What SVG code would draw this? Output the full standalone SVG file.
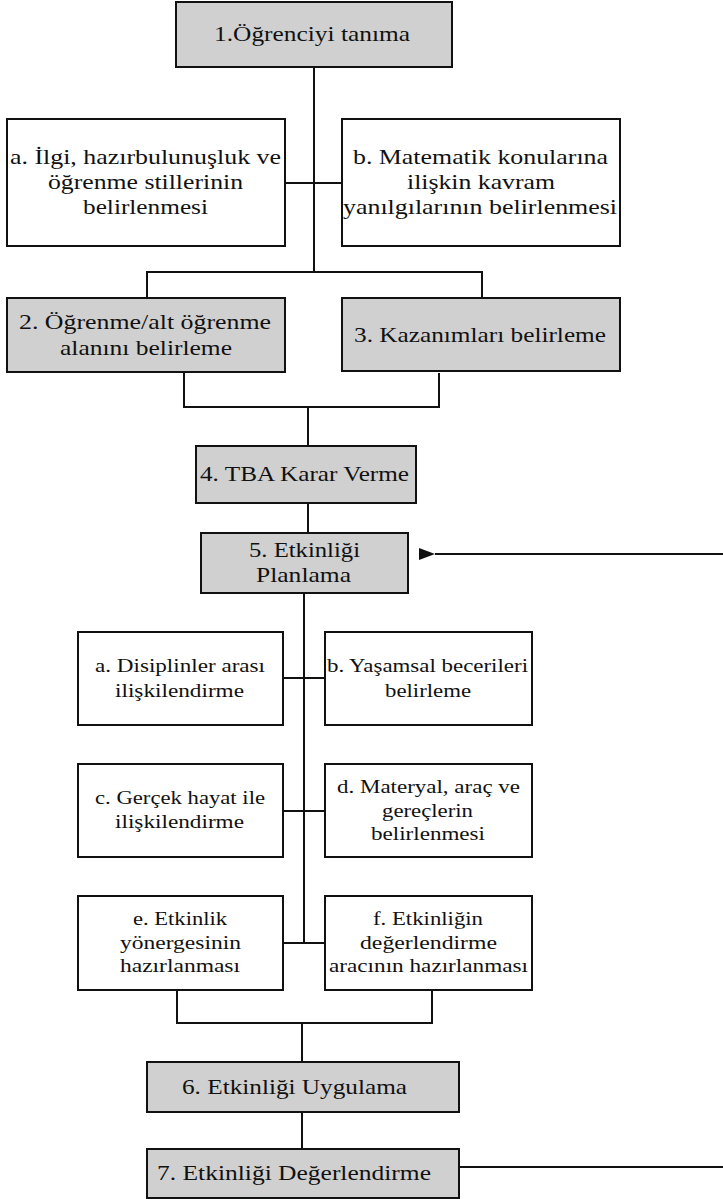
<svg xmlns="http://www.w3.org/2000/svg" width="723" height="1199" viewBox="0 0 723 1199">
<style>
.box{fill:#ffffff;stroke:#111;stroke-width:2}
.g{fill:#d0d0d0}
.t{font-family:"Liberation Serif","Times New Roman",serif;font-size:21px;fill:#111;text-anchor:middle}
.s{font-size:19px}
.ln{fill:none;stroke:#111;stroke-width:2}
</style>
<defs>
<marker id="ah" markerWidth="16" markerHeight="12" refX="0" refY="6" orient="auto" markerUnits="userSpaceOnUse">
<path d="M16,0 L0,6 L16,12 Z" fill="#111"/>
</marker>
</defs>
<rect width="723" height="1199" fill="#ffffff"/>
<g id="connectors">
<path class="ln" d="M314,67 V272"/>
<path class="ln" d="M285,183 H342"/>
<path class="ln" d="M147,298 V272 H482 V298"/>
<path class="ln" d="M184,372 V407 H439 V373"/>
<path class="ln" d="M308,407 V446"/>
<path class="ln" d="M308,503 V533"/>
<path class="ln" d="M304,593 V943"/>
<path class="ln" d="M283,678 H325"/>
<path class="ln" d="M283,811 H325"/>
<path class="ln" d="M283,943 H325"/>
<path class="ln" d="M177,990 V1023 H432 V990"/>
<path class="ln" d="M302,1023 V1062"/>
<path class="ln" d="M302,1112 V1149"/>
<path class="ln" d="M459,1167 H723"/>
<path class="ln" d="M723,554 H435" marker-end="url(#ah)"/>
</g>
<g id="n1"><rect class="box g" x="176" y="2" width="276" height="65"/><text class="t" x="312" y="41" textLength="196" lengthAdjust="spacingAndGlyphs">1.Öğrenciyi tanıma</text></g>
<g id="n1a"><rect class="box" x="7" y="119" width="278" height="127"/>
<text class="t" x="145.5" y="164" textLength="271" lengthAdjust="spacingAndGlyphs">a. İlgi, hazırbulunuşluk ve</text>
<text class="t" x="145.5" y="189" textLength="195" lengthAdjust="spacingAndGlyphs">öğrenme stillerinin</text>
<text class="t" x="145.5" y="214" textLength="125" lengthAdjust="spacingAndGlyphs">belirlenmesi</text></g>
<g id="n1b"><rect class="box" x="342" y="119" width="278" height="127"/>
<text class="t" x="480.5" y="164" textLength="255" lengthAdjust="spacingAndGlyphs">b. Matematik konularına</text>
<text class="t" x="481" y="189" textLength="148" lengthAdjust="spacingAndGlyphs">ilişkin kavram</text>
<text class="t" x="480" y="214" textLength="274" lengthAdjust="spacingAndGlyphs">yanılgılarının belirlenmesi</text></g>
<g id="n2"><rect class="box g" x="7" y="298" width="278" height="74"/>
<text class="t" x="145" y="329" textLength="252" lengthAdjust="spacingAndGlyphs">2. Öğrenme/alt öğrenme</text>
<text class="t" x="146" y="355" textLength="172" lengthAdjust="spacingAndGlyphs">alanını belirleme</text></g>
<g id="n3"><rect class="box g" x="342" y="298" width="278" height="73"/>
<text class="t" x="480" y="342" textLength="252" lengthAdjust="spacingAndGlyphs">3. Kazanımları belirleme</text></g>
<g id="n4"><rect class="box g" x="196" y="446" width="220" height="57"/>
<text class="t" x="304.5" y="481" textLength="209" lengthAdjust="spacingAndGlyphs">4. TBA Karar Verme</text></g>
<g id="n5"><rect class="box g" x="201" y="533" width="207" height="60"/>
<text class="t" x="304.5" y="557" textLength="111" lengthAdjust="spacingAndGlyphs">5. Etkinliği</text>
<text class="t" x="303.5" y="582" textLength="95" lengthAdjust="spacingAndGlyphs">Planlama</text></g>
<g id="n5a"><rect class="box" x="78" y="632" width="205" height="93"/>
<text class="t s" x="180" y="672" textLength="170" lengthAdjust="spacingAndGlyphs">a. Disiplinler arası</text>
<text class="t s" x="179.5" y="697" textLength="129" lengthAdjust="spacingAndGlyphs">ilişkilendirme</text></g>
<g id="n5b"><rect class="box" x="325" y="632" width="207" height="93"/>
<text class="t s" x="427.5" y="672" textLength="201" lengthAdjust="spacingAndGlyphs">b. Yaşamsal becerileri</text>
<text class="t s" x="428" y="697" textLength="86" lengthAdjust="spacingAndGlyphs">belirleme</text></g>
<g id="n5c"><rect class="box" x="78" y="764" width="205" height="93"/>
<text class="t s" x="180" y="804" textLength="170" lengthAdjust="spacingAndGlyphs">c. Gerçek hayat ile</text>
<text class="t s" x="179.5" y="828" textLength="129" lengthAdjust="spacingAndGlyphs">ilişkilendirme</text></g>
<g id="n5d"><rect class="box" x="325" y="764" width="207" height="93"/>
<text class="t s" x="428.5" y="793" textLength="183" lengthAdjust="spacingAndGlyphs">d. Materyal, araç ve</text>
<text class="t s" x="427.5" y="817" textLength="91" lengthAdjust="spacingAndGlyphs">gereçlerin</text>
<text class="t s" x="428" y="840" textLength="114" lengthAdjust="spacingAndGlyphs">belirlenmesi</text></g>
<g id="n5e"><rect class="box" x="78" y="896" width="205" height="94"/>
<text class="t s" x="180" y="925" textLength="94" lengthAdjust="spacingAndGlyphs">e. Etkinlik</text>
<text class="t s" x="180.5" y="949" textLength="121" lengthAdjust="spacingAndGlyphs">yönergesinin</text>
<text class="t s" x="180" y="972" textLength="120" lengthAdjust="spacingAndGlyphs">hazırlanması</text></g>
<g id="n5f"><rect class="box" x="325" y="896" width="207" height="94"/>
<text class="t s" x="428" y="925" textLength="110" lengthAdjust="spacingAndGlyphs">f. Etkinliğin</text>
<text class="t s" x="428.5" y="949" textLength="137" lengthAdjust="spacingAndGlyphs">değerlendirme</text>
<text class="t s" x="428.5" y="972" textLength="199" lengthAdjust="spacingAndGlyphs">aracının hazırlanması</text></g>
<g id="n6"><rect class="box g" x="147" y="1062" width="312" height="50"/>
<text class="t" x="294.5" y="1094" textLength="225" lengthAdjust="spacingAndGlyphs">6. Etkinliği Uygulama</text></g>
<g id="n7"><rect class="box g" x="147" y="1149" width="312" height="49"/>
<text class="t" x="294" y="1180" textLength="274" lengthAdjust="spacingAndGlyphs">7. Etkinliği Değerlendirme</text></g>
</svg>
